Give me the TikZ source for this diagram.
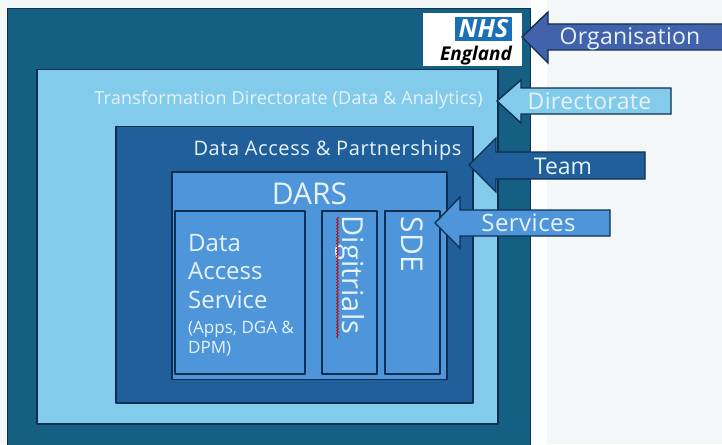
\documentclass[tikz,border=0pt]{standalone}
\usepackage{fontspec}
\setmainfont{Open Sans}
\usetikzlibrary{decorations.pathmorphing}
\definecolor{outerc}{HTML}{156082}
\definecolor{dirc}{HTML}{83CBEB}
\definecolor{teamc}{HTML}{215F9A}
\definecolor{darsc}{HTML}{4E95D9}
\definecolor{orgc}{HTML}{4262AC}
\definecolor{edgec}{HTML}{0E2F52}
\definecolor{pagec}{HTML}{F4F7F7}
\definecolor{nhsc}{HTML}{1B6FB5}
\definecolor{txtc}{HTML}{E6F3FB}
\newcommand{\fsz}[2]{\fontsize{#1}{#1}\selectfont\addfontfeature{LetterSpace=#2}}
\tikzset{
 x=1pt,y=-1pt,
 panel/.style={draw=edgec,line width=1.6pt,line join=round},
 arrowshape/.style={draw=edgec,line width=1.4pt,line join=miter},
 label/.style={text=txtc,inner sep=0pt,anchor=base},
 vlabel/.style={text=txtc,inner sep=0pt,rotate=-90},
 dalabel/.style={text=txtc,inner sep=0pt,anchor=base west}
}
\begin{document}
\begin{tikzpicture}
\useasboundingbox (0,0) rectangle (722,444);
\fill[pagec] (0,0) rectangle (722,444);
\fill[white] (531,0) rectangle (547,444);
% nested panels
\draw[panel,fill=outerc,line width=1.2pt] (7.5,8.5) rectangle (530.5,450);
\fill[white] (423,13) rectangle (522,66);
\draw[panel,fill=dirc] (37,69.5) rectangle (498,424);
\draw[panel,fill=teamc] (116,126.5) rectangle (473,403);
\draw[panel,fill=darsc] (172,172) rectangle (447,379.5);
\draw[panel,fill=darsc] (175,211) rectangle (305,374);
\draw[panel,fill=darsc] (322,211) rectangle (377,374);
\draw[panel,fill=darsc] (385,211) rectangle (440,374);
% logo
\node[fill=nhsc,minimum width=57pt,minimum height=24pt,inner sep=0pt,text=white,font=\bfseries\itshape\fontsize{25}{25}\selectfont] (nhs) at (483.5,29) {NHS};
\node[inner sep=0pt,text=black,font=\bfseries\itshape\fontsize{19}{19}\selectfont,anchor=base east] (england) at (512,60) {England};
% arrows
\draw[arrowshape,fill=orgc] (522,37) -- (548,12) -- (548,24) -- (724,24) -- (724,50) -- (548,50) -- (548,63) -- cycle;
\draw[arrowshape,fill=dirc] (497,101) -- (521,80) -- (521,88) -- (671,88) -- (671,114) -- (521,114) -- (521,123) -- cycle;
\draw[arrowshape,fill=teamc] (469,165) -- (496,138) -- (496,152) -- (645,152) -- (645,179) -- (496,179) -- (496,192) -- cycle;
\draw[arrowshape,fill=darsc] (435,223) -- (460,197) -- (460,210) -- (610,210) -- (610,236) -- (460,236) -- (460,248) -- cycle;
% arrow labels
\node[label,font=\fsz{23}{1}] (organisation) at (630,45) {Organisation};
\node[label,font=\fsz{23}{1.5}] (directorate) at (589.5,109) {Directorate};
\node[label,font=\fsz{23}{0}] (team) at (563,174) {Team};
\node[label,font=\fsz{24}{2}] (services) at (528.5,231) {Services};
% panel titles
\node[label,font=\fsz{18}{1.2}] (transformation) at (288.5,104) {Transformation Directorate (Data \& Analytics)};
\node[label,font=\fsz{20}{3}] (dap) at (327.5,155) {Data Access \& Partnerships};
\node[label,font=\fsz{30}{0}] (dars) at (309.5,204) {DARS};
% service text
\node[dalabel,font=\fsz{24}{0}] (das1) at (188,251) {Data};
\node[dalabel,font=\fsz{24}{0}] (das2) at (188,279) {Access};
\node[dalabel,font=\fsz{24}{0}] (das3) at (188,308) {Service};
\node[dalabel,font=\fsz{17}{0}] (das4) at (188,333) {(Apps, DGA \&};
\node[dalabel,font=\fsz{17}{0}] (das5) at (188,353) {DPM)};
\node[vlabel,font=\fsz{29}{0}] (digitrials) at (350,275) {Digitrials};
\node[vlabel,font=\fsz{30}{0}] (sde) at (412,244.5) {SDE};
\draw[red!75!black,line width=0.8pt,decorate,decoration={snake,amplitude=0.8pt,segment length=3pt}] (337.5,217) -- (337.5,338);
\end{tikzpicture}
\end{document}
